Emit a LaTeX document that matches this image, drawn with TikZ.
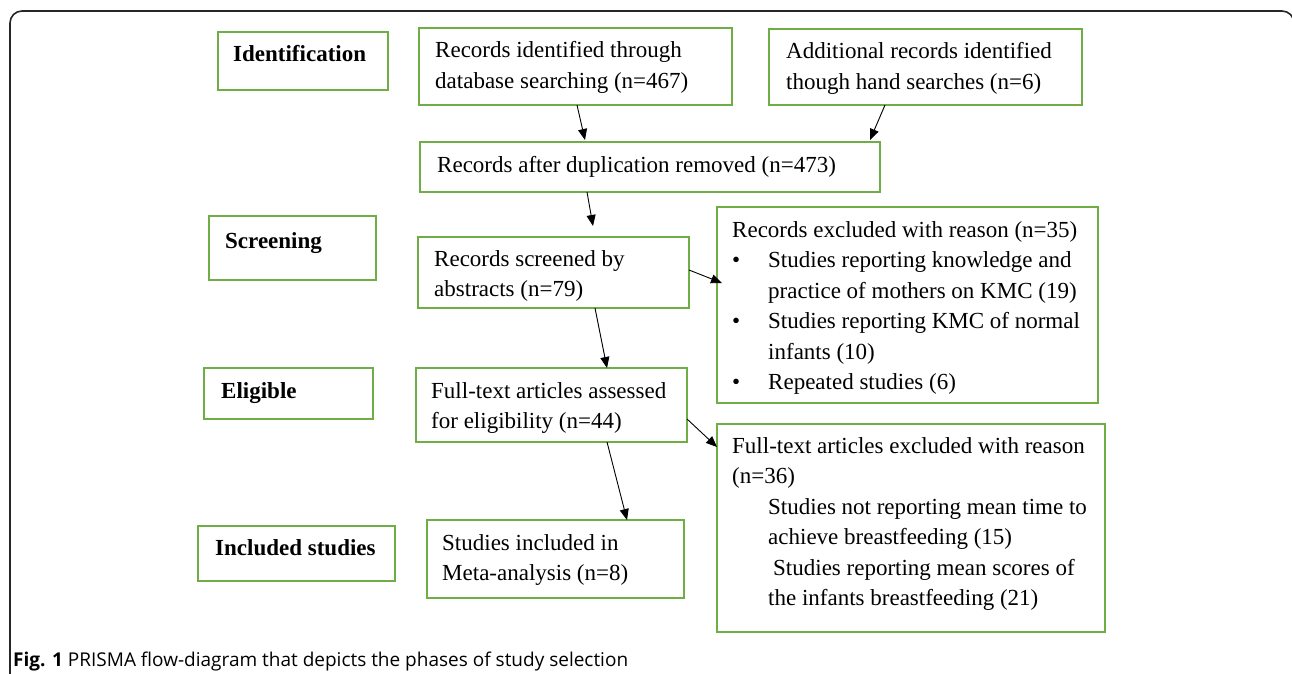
\documentclass[tikz,border=0pt]{standalone}
\usepackage{fontspec}
\setmainfont{Liberation Serif}
\newfontfamily\capfont{Open Sans}
\usetikzlibrary{arrows.meta,calc}
\definecolor{boxgreen}{RGB}{112,173,71}
\newcommand\ml[1]{\begin{tabular}[t]{@{}l@{}}#1\end{tabular}}
\newcommand\bul{\makebox[36pt][l]{\textbullet}}
\begin{document}
\begin{tikzpicture}[x=1pt,y=-1pt,
  box/.style={draw=boxgreen, line width=2pt, anchor=north west, inner sep=0pt, outer sep=0pt},
  txt/.style={anchor=base west, inner sep=0pt, font=\fontsize{23}{30.5}\selectfont},
  btxt/.style={txt, font=\fontsize{23}{30.5}\selectfont\bfseries},
  arr/.style={-{Triangle[length=11pt,width=9pt]}, line width=0.9pt, black}]
\useasboundingbox (0,0) rectangle (1292,674);
% outer frame
\draw[line width=1.6pt, black!85, rounded corners=12pt] (10,720) -- (10,11) -- (1294,11) -- (1294,720);
% boxes
\node[box, minimum width=170pt, minimum height=58pt] (idl) at (218,32) {};
\node[box, minimum width=313pt, minimum height=77pt] (rec) at (419,28) {};
\node[box, minimum width=313pt, minimum height=76pt] (add) at (769,29) {};
\node[box, minimum width=460pt, minimum height=50pt] (dup) at (420,142) {};
\node[box, minimum width=167pt, minimum height=64pt] (scl) at (209,216) {};
\node[box, minimum width=271pt, minimum height=71pt] (scr) at (418,237) {};
\node[box, minimum width=381pt, minimum height=196pt] (exca) at (717,207) {};
\node[box, minimum width=169pt, minimum height=51pt] (ell) at (204,368) {};
\node[box, minimum width=271pt, minimum height=74pt] (ass) at (416,368) {};
\node[box, minimum width=388pt, minimum height=208pt] (excb) at (717,424) {};
\node[box, minimum width=197pt, minimum height=55pt] (incl) at (198,526) {};
\node[box, minimum width=257pt, minimum height=78pt] (inc) at (427,520) {};
% texts
\node[btxt] (tidl) at (233,62) {Identification};
\node[txt] (trec) at (435,58) {\ml{Records identified through\\database searching (n=467)}};
\node[txt] (tadd) at (786,59) {\ml{Additional records identified\\though hand searches (n=6)}};
\node[txt] (tdup) at (437,172) {Records after duplication removed (n=473)};
\node[btxt] (tscl) at (225,248) {Screening};
\node[txt] (tscr) at (434,266) {\ml{Records screened by\\abstracts (n=79)}};
\node[txt] (texca) at (732,237) {\ml{Records excluded with reason (n=35)\\
\bul Studies reporting knowledge and\\
\hspace*{36pt}practice of mothers on KMC (19)\\
\bul Studies reporting KMC of normal\\
\hspace*{36pt}infants (10)\\
\bul Repeated studies (6)}};
\node[btxt] (tell) at (221,398) {Eligible};
\node[txt] (tass) at (431,398) {\ml{Full-text articles assessed\\for eligibility (n=44)}};
\node[txt] (texcb) at (732,453) {\ml{Full-text articles excluded with reason\\
(n=36)\\
\hspace*{36pt}Studies not reporting mean time to\\
\hspace*{36pt}achieve breastfeeding (15)\\
\hspace*{41pt}Studies reporting mean scores of\\
\hspace*{36pt}the infants breastfeeding (21)}};
\node[btxt] (tincl) at (215,555) {Included studies};
\node[txt] (tinc) at (442,550) {\ml{Studies included in\\Meta-analysis (n=8)}};
% caption
\node[anchor=base west, inner sep=0pt, font=\capfont\fontsize{19}{23}\selectfont] (cap) at (13,666) {\textbf{Fig. 1} PRISMA flow-diagram that depicts the phases of study selection};
% connectors
\draw[arr] ($(rec.south west)+(158,0)$) -- ($(dup.north west)+(165,-2)$);
\draw[arr] ($(add.south west)+(116,0)$) -- ($(dup.north west)+(450,-2)$);
\draw[arr] ($(dup.south west)+(167,0)$) -- ($(scr.north west)+(175,-11)$);
\draw[arr] ($(scr.north east)+(0,33)$) -- ($(exca.north west)+(5,76)$);
\draw[arr] ($(scr.south west)+(177,0)$) -- ($(ass.north west)+(191,0)$);
\draw[arr] ($(ass.north east)+(0,51)$) -- ($(excb.north west)+(0,23)$);
\draw[arr] ($(ass.south west)+(191,0)$) -- ($(inc.north west)+(200,0)$);
\end{tikzpicture}
\end{document}
